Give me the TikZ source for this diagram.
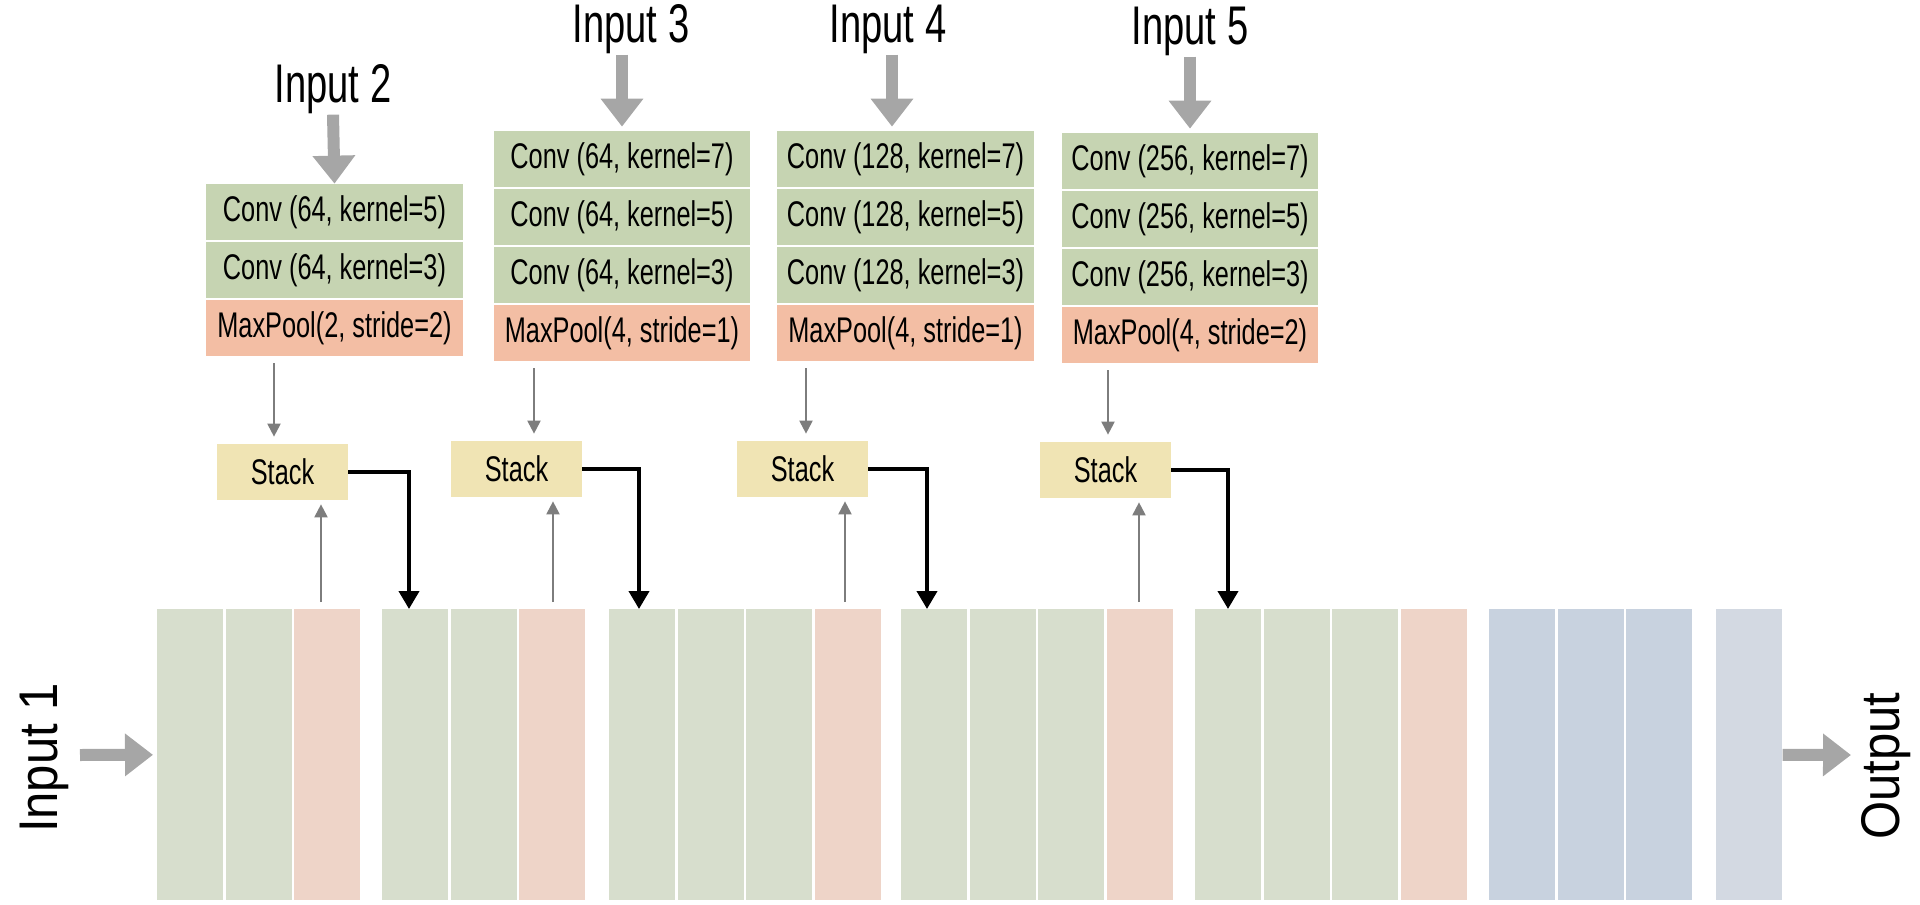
\documentclass[tikz,border=0pt]{standalone}
\usepackage{fontspec}
\setmainfont{Liberation Sans}[FakeStretch=0.71]
\newfontfamily\sidefont{Liberation Sans}[FakeStretch=0.9]
\newfontfamily\topfont{Liberation Sans}[FakeStretch=0.7]
\usetikzlibrary{arrows.meta}
\definecolor{convgreen}{HTML}{C6D4B2}
\definecolor{poolred}{HTML}{F3BEA4}
\definecolor{stackyellow}{HTML}{F0E4B4}
\definecolor{mapgreen}{HTML}{D7DECD}
\definecolor{mapred}{HTML}{EED4C8}
\definecolor{mapblue}{HTML}{C8D2DF}
\definecolor{mapgrey}{HTML}{D3D9E2}
\definecolor{arrowgray}{HTML}{A6A6A6}
\definecolor{thingray}{HTML}{7D7D7D}
\tikzset{
	blk/.style={minimum width=5.14cm, minimum height=1.12cm, inner sep=0pt, font=\fontsize{20.3}{23}\selectfont},
	conv/.style={blk, fill=convgreen},
	pool/.style={blk, fill=poolred},
	stackbox/.style={fill=stackyellow, minimum width=2.62cm, minimum height=1.12cm, inner sep=0pt, font=\fontsize{20.3}{23}\selectfont},
	fmap/.style={anchor=north west, minimum width=1.32cm, minimum height=5.82cm, inner sep=0pt},
	inlabel/.style={font=\topfont\fontsize{31}{34}\selectfont, inner sep=0pt},
	sidelabel/.style={font=\sidefont\fontsize{31}{34}\selectfont, inner sep=0pt, rotate=90},
	bigarrow/.style={draw=arrowgray, line width=0.24cm, -{Triangle[width=0.82cm,length=0.56cm]}},
	thinarrow/.style={draw=thingray, line width=0.04cm, -{Triangle[width=0.26cm,length=0.26cm]}},
	skiparrow/.style={draw=black, line width=0.08cm, -{Triangle[width=0.4cm,length=0.36cm]}},
}

\begin{document}
\begin{tikzpicture}[x=0.02cm, y=-0.02cm]
			%%%%% START %%%%%
			\def\ybar{609}
			\def\colone{334.5}
			\def\coltwo{622}
			\def\colthree{905.5}
			\def\colfour{1190}
			\useasboundingbox (0,0) rectangle (1920,905);
			
			% input 2 branch
			\node[inlabel, anchor=base] (in2) at (333,103) {Input 2};
			\node[conv] (in2c1) at (\colone,212) {Conv (64, kernel=5)};
			\node[conv] (in2c2) at (\colone,270) {Conv (64, kernel=3)};
			\node[pool] (in2p) at (\colone,328) {MaxPool(2, stride=2)};
			\node[stackbox] (st2) at (282.5,472) {Stack};
			
			% input 3 branch
			\node[inlabel, anchor=base] (in3) at (631,43) {Input 3};
			\node[conv] (in3c1) at (\coltwo,159) {Conv (64, kernel=7)};
			\node[conv] (in3c2) at (\coltwo,217) {Conv (64, kernel=5)};
			\node[conv] (in3c3) at (\coltwo,275) {Conv (64, kernel=3)};
			\node[pool] (in3p) at (\coltwo,333) {MaxPool(4, stride=1)};
			\node[stackbox] (st3) at (516.5,469) {Stack};
			
			% input 4 branch
			\node[inlabel, anchor=base] (in4) at (888,43) {Input 4};
			\node[conv] (in4c1) at (\colthree,159) {Conv (128, kernel=7)};
			\node[conv] (in4c2) at (\colthree,217) {Conv (128, kernel=5)};
			\node[conv] (in4c3) at (\colthree,275) {Conv (128, kernel=3)};
			\node[pool] (in4p) at (\colthree,333) {MaxPool(4, stride=1)};
			\node[stackbox] (st4) at (802.5,469) {Stack};
			
			% input 5 branch
			\node[inlabel, anchor=base] (in5) at (\colfour,45) {Input 5};
			\node[conv] (in5c1) at (\colfour,161) {Conv (256, kernel=7)};
			\node[conv] (in5c2) at (\colfour,219) {Conv (256, kernel=5)};
			\node[conv] (in5c3) at (\colfour,277) {Conv (256, kernel=3)};
			\node[pool] (in5p) at (\colfour,335) {MaxPool(4, stride=2)};
			\node[stackbox] (st5) at (1105.5,470) {Stack};
			
			% main path
			\node[fmap, fill=mapgreen] (b1) at (157,\ybar) {};
			\node[fmap, fill=mapgreen] (b2) at (225.5,\ybar) {};
			\node[fmap, fill=mapred] (b3) at (294,\ybar) {};
			\node[fmap, fill=mapgreen] (b4) at (382,\ybar) {};
			\node[fmap, fill=mapgreen] (b5) at (450.5,\ybar) {};
			\node[fmap, fill=mapred] (b6) at (519,\ybar) {};
			\node[fmap, fill=mapgreen] (b7) at (609,\ybar) {};
			\node[fmap, fill=mapgreen] (b8) at (677.5,\ybar) {};
			\node[fmap, fill=mapgreen] (b9) at (746,\ybar) {};
			\node[fmap, fill=mapred] (b10) at (814.5,\ybar) {};
			\node[fmap, fill=mapgreen] (b11) at (901,\ybar) {};
			\node[fmap, fill=mapgreen] (b12) at (969.5,\ybar) {};
			\node[fmap, fill=mapgreen] (b13) at (1038,\ybar) {};
			\node[fmap, fill=mapred] (b14) at (1106.5,\ybar) {};
			\node[fmap, fill=mapgreen] (b15) at (1195,\ybar) {};
			\node[fmap, fill=mapgreen] (b16) at (1263.5,\ybar) {};
			\node[fmap, fill=mapgreen] (b17) at (1332,\ybar) {};
			\node[fmap, fill=mapred] (b18) at (1400.5,\ybar) {};
			\node[fmap, fill=mapblue] (b19) at (1489,\ybar) {};
			\node[fmap, fill=mapblue] (b20) at (1557.5,\ybar) {};
			\node[fmap, fill=mapblue] (b21) at (1626,\ybar) {};
			\node[fmap, fill=mapgrey] (b22) at (1716,\ybar) {};
			
			\node[sidelabel] (in1) at (44,758) {Input 1};
			\node[sidelabel] (out) at (1886,766) {Output};
			\coordinate (in1tail) at (80,755);
			\coordinate (outtip) at (1851,755);
			
			% x positions of the thin and skip arrows
			\coordinate (x4in) at (892,0);
			\coordinate (x2down) at (274,0);
			\coordinate (x3down) at (534,0);
			\coordinate (x4down) at (806,0);
			\coordinate (x5down) at (1108,0);
			\coordinate (x2up) at (321,0);
			\coordinate (x3up) at (553,0);
			\coordinate (x4up) at (845,0);
			\coordinate (x5up) at (1139,0);
			\coordinate (x2skip) at (409,0);
			\coordinate (x3skip) at (639,0);
			\coordinate (x4skip) at (927,0);
			\coordinate (x5skip) at (1228,0);
			
			\draw[bigarrow] (in2.south) -- (in2c1.north);
			\draw[bigarrow, shorten >=0.08cm] (in3.south -| in3c1.north) -- (in3c1.north);
			\draw[bigarrow, shorten >=0.08cm] (in4.south -| x4in) -- (in4c1.north -| x4in);
			\draw[bigarrow, shorten >=0.08cm] (in5.south) -- (in5c1.north);
			\draw[bigarrow, shorten >=0.08cm] (in1tail) -- (b1.west);
			\draw[bigarrow] (b22.east) -- (outtip);
			
			\draw[thinarrow, shorten <=0.14cm, shorten >=0.14cm] (in2p.south -| x2down) -- (st2.north -| x2down);
			\draw[thinarrow, shorten <=0.14cm, shorten >=0.14cm] (in3p.south -| x3down) -- (st3.north -| x3down);
			\draw[thinarrow, shorten <=0.14cm, shorten >=0.14cm] (in4p.south -| x4down) -- (st4.north -| x4down);
			\draw[thinarrow, shorten <=0.14cm, shorten >=0.14cm] (in5p.south -| x5down) -- (st5.north -| x5down);
			
			\draw[thinarrow, shorten <=0.14cm, shorten >=0.08cm] (b3.north -| x2up) -- (st2.south -| x2up);
			\draw[thinarrow, shorten <=0.14cm, shorten >=0.08cm] (b6.north -| x3up) -- (st3.south -| x3up);
			\draw[thinarrow, shorten <=0.14cm, shorten >=0.08cm] (b10.north -| x4up) -- (st4.south -| x4up);
			\draw[thinarrow, shorten <=0.14cm, shorten >=0.08cm] (b14.north -| x5up) -- (st5.south -| x5up);
			
			\draw[skiparrow] (st2.east) -| (b4.north -| x2skip);
			\draw[skiparrow] (st3.east) -| (b7.north -| x3skip);
			\draw[skiparrow] (st4.east) -| (b11.north -| x4skip);
			\draw[skiparrow] (st5.east) -| (b15.north -| x5skip);
			%%%%% END %%%%%
\end{tikzpicture}
\end{document}
